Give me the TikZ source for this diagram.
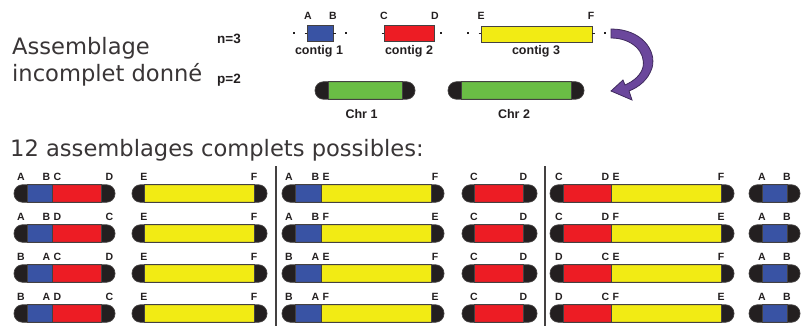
\documentclass[tikz,border=0pt]{standalone}
\usepackage{fontspec}
\setmainfont{DejaVu Sans}
\newfontfamily\lblfont{Liberation Sans}

\definecolor{ctgblue}{HTML}{3953A4}
\definecolor{ctgred}{HTML}{ED1C24}
\definecolor{ctgyellow}{HTML}{F2EB14}
\definecolor{chrgreen}{HTML}{6ABD45}
\definecolor{capblack}{HTML}{231F20}
\definecolor{arrowpurple}{HTML}{6B479C}

\tikzset{
  outl/.style={draw=capblack!85, line width=0.7pt},
  bigtxt/.style={font=\fontsize{22.6}{26}\selectfont, text=capblack!90, anchor=base west},
  param/.style={font=\lblfont\bfseries\fontsize{13.5}{16}\selectfont, text=capblack, anchor=base},
  ctxt/.style={font=\lblfont\bfseries\fontsize{12.5}{15}\selectfont, text=capblack, anchor=base},
  lbl/.style={font=\lblfont\bfseries\fontsize{10.5}{12}\selectfont, text=capblack, anchor=base},
  sep/.style={draw=capblack!85, line width=1.2pt}
}

% chromosome bar: #1 = centre y, #2 = left end, #3 = colour/from/to, #4 = right end
\newcommand{\chrom}[4]{%
  \fill[capblack, rounded corners=8.5pt] (#2,#1+8.75) rectangle (#4,#1-8.75);
  \foreach \col/\xa/\xb in {#3} {
    \filldraw[fill=\col, outl] (\xa,#1+8.75) rectangle (\xb,#1-8.75);
  }
  \draw[outl, rounded corners=8.5pt] (#2,#1+8.75) rectangle (#4,#1-8.75);
}

\begin{document}
\begin{tikzpicture}[x=1pt,y=1pt]
        \tikzstyle{every node}+=[inner sep=0pt]
        \useasboundingbox (0,0) rectangle (803,-326);
        \node[bigtxt] (titre1) at (12,-55) {Assemblage};
        \node[bigtxt] (titre2) at (12,-82) {incomplet donné};
        \node[param] (n) at (229,-44) {n=3};
        \node[param] (p) at (229,-84) {p=2};
        % contigs
        \filldraw[fill=ctgblue, outl] (307,-25.5) rectangle (333,-41.5);
        \filldraw[fill=ctgred, outl] (384,-25.5) rectangle (434,-41.5);
        \filldraw[fill=ctgyellow, outl] (481,-26) rectangle (592,-42);
        \draw[capblack, line width=1.3pt] (304.5,-33.5) -- (307,-33.5);
        \draw[capblack, line width=1.3pt] (333,-33.5) -- (335.5,-33.5);
        \draw[capblack, line width=1.3pt] (381.5,-33.5) -- (384,-33.5);
        \draw[capblack, line width=1.3pt] (478.5,-33.5) -- (481,-33.5);
        \draw[capblack, line width=1.3pt] (592,-33.5) -- (594.5,-33.5);
        \foreach \d in {294,346,441,468,605}
          \fill[capblack] (\d-1,-32.5) rectangle (\d+1,-34.5);
        \node[lbl] (cA) at (308,-20) {A};
        \node[lbl] (cB) at (333,-20) {B};
        \node[lbl] (cC) at (384,-20) {C};
        \node[lbl] (cD) at (435,-20) {D};
        \node[lbl] (cE) at (481,-20) {E};
        \node[lbl] (cF) at (591,-20) {F};
        \node[ctxt] (ctg1) at (319,-55) {contig 1};
        \node[ctxt] (ctg2) at (409,-55) {contig 2};
        \node[ctxt] (ctg3) at (536,-55) {contig 3};
        % chromosomes
        \chrom{-90.5}{315}{chrgreen/328/402}{415}
        \chrom{-90.5}{448}{chrgreen/461/571}{584}
        \node[ctxt] (chr1) at (361.5,-119) {Chr 1};
        \node[ctxt] (chr2) at (514,-119) {Chr 2};
        % curved arrow
        \filldraw[fill=arrowpurple, draw=arrowpurple!60!black, line width=0.8pt]
          (611,-29) .. controls (641,-29) and (657,-50) .. (652,-68)
          .. controls (648,-80) and (639,-87) .. (629,-91) -- (632,-100) -- (611,-91)
          -- (623,-80) -- (625,-85) .. controls (634,-81) and (641,-75) .. (643,-67)
          .. controls (646,-52) and (632,-38) .. (611,-38) -- cycle;
        \node[bigtxt] (titre3) at (10,-157) {12 assemblages complets possibles:};
        \draw[sep] (276,-166) -- (276,-326);
        \draw[sep] (545,-166) -- (545,-326);
        % first column
        \foreach \r/\la/\lb/\lc/\ld in {0/A/B/C/D,1/A/B/D/C,2/B/A/C/D,3/B/A/D/C} {
          \pgfmathsetmacro{\y}{-193.5-40*\r}
          \chrom{\y}{14}{ctgblue/27/52,ctgred/52/101.5}{115}
          \chrom{\y}{132}{ctgyellow/144/254}{267}
          \node[lbl] (a\r) at (21,\y+13.5) {\la};
          \node[lbl, anchor=base east] (b\r) at (50.5,\y+13.5) {\lb};
          \node[lbl, anchor=base west] (c\r) at (53.5,\y+13.5) {\lc};
          \node[lbl] (d\r) at (109.5,\y+13.5) {\ld};
          \node[lbl] (e\r) at (144,\y+13.5) {E};
          \node[lbl] (f\r) at (254,\y+13.5) {F};
        }
        % second column
        \foreach \r/\la/\lb/\lc/\ld in {0/A/B/E/F,1/A/B/F/E,2/B/A/E/F,3/B/A/F/E} {
          \pgfmathsetmacro{\y}{-193.5-40*\r}
          \chrom{\y}{282}{ctgblue/295/321,ctgyellow/321/431}{444}
          \chrom{\y}{462}{ctgred/474/523}{537}
          \node[lbl] (g\r) at (289,\y+13.5) {\la};
          \node[lbl, anchor=base east] (h\r) at (319.5,\y+13.5) {\lb};
          \node[lbl, anchor=base west] (i\r) at (322.5,\y+13.5) {\lc};
          \node[lbl] (j\r) at (435,\y+13.5) {\ld};
          \node[lbl] (k\r) at (474,\y+13.5) {C};
          \node[lbl] (l\r) at (523.5,\y+13.5) {D};
        }
        % third column
        \foreach \r/\la/\lb/\lc/\ld in {0/C/D/E/F,1/C/D/F/E,2/D/C/E/F,3/D/C/F/E} {
          \pgfmathsetmacro{\y}{-193.5-40*\r}
          \chrom{\y}{550}{ctgred/563/611,ctgyellow/611/721}{734}
          \chrom{\y}{749}{ctgblue/762/787}{800}
          \node[lbl] (m\r) at (559,\y+13.5) {\la};
          \node[lbl, anchor=base east] (n\r) at (609.5,\y+13.5) {\lb};
          \node[lbl, anchor=base west] (o\r) at (612.5,\y+13.5) {\lc};
          \node[lbl] (q\r) at (721,\y+13.5) {\ld};
          \node[lbl] (s\r) at (762,\y+13.5) {A};
          \node[lbl] (t\r) at (787,\y+13.5) {B};
        }
\end{tikzpicture}
\end{document}
